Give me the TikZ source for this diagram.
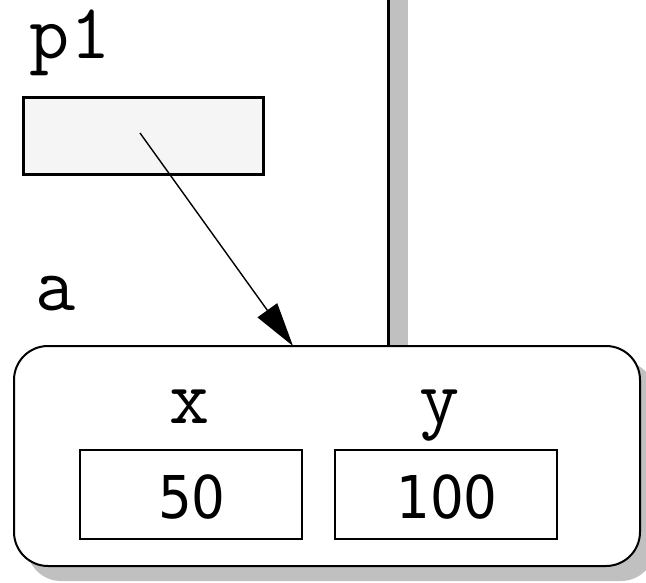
\documentclass[tikz,border=0pt]{standalone}
\usepackage{fontspec}
\usetikzlibrary{arrows.meta}
\newfontfamily\numfont{DejaVu Sans Condensed}
\definecolor{shadowgray}{HTML}{C0C0C0}
\definecolor{boxfill}{HTML}{F5F5F5}
\tikzset{
  codelabel/.style={inner sep=0pt, anchor=base, font=\ttfamily\fontsize{78}{78}\selectfont},
  numlabel/.style={inner sep=0pt, anchor=base, font=\numfont\fontsize{59}{59}\selectfont},
  fieldbox/.style={draw, line width=1.5pt, minimum width=222pt, minimum height=89pt, inner sep=0pt},
  ptrbox/.style={draw, line width=3pt, fill=boxfill, minimum width=240pt, minimum height=77pt, inner sep=0pt},
  objbox/.style={draw, line width=2pt, fill=white, rounded corners=34pt, minimum width=626pt, minimum height=220pt, inner sep=0pt},
  ptrarrow/.style={line width=1.4pt, -{Triangle[length=44pt,width=24pt]}}
}
\begin{document}
\begin{tikzpicture}[x=1pt,y=-1pt]
\useasboundingbox (0,0) rectangle (646,583);
% stack divider with shadow
\fill[shadowgray] (389,0) rectangle (408,350);
\coordinate (divtop) at (388,0);
\coordinate (divbot) at (388,347);
\draw[line width=3pt] (divtop) -- (divbot);
% object shadow
\fill[shadowgray, rounded corners=34pt] (27,361) rectangle (655,581);
% object box
\node[objbox] (obj) at (327,456) {};
\node[codelabel] (alabel) at (56,310) {a};
\node[codelabel] (xlabel) at (190,423) {x};
\node[codelabel] (ylabel) at (440,423) {y};
\node[fieldbox] (xbox) at (191,494.5) {};
\node[fieldbox] (ybox) at (446,494.5) {};
\node[numlabel] (xval) at (192,518) {50};
\node[numlabel] (yval) at (447,518) {100};
% pointer variable
\node[codelabel] (p1label) at (70,59) {p1};
\node[ptrbox] (p1box) at (143,136.5) {};
\coordinate (p1ptr) at (140,133);
\coordinate (objtop) at (293,346);
\draw[ptrarrow] (p1ptr) -- (objtop);
\end{tikzpicture}
\end{document}
